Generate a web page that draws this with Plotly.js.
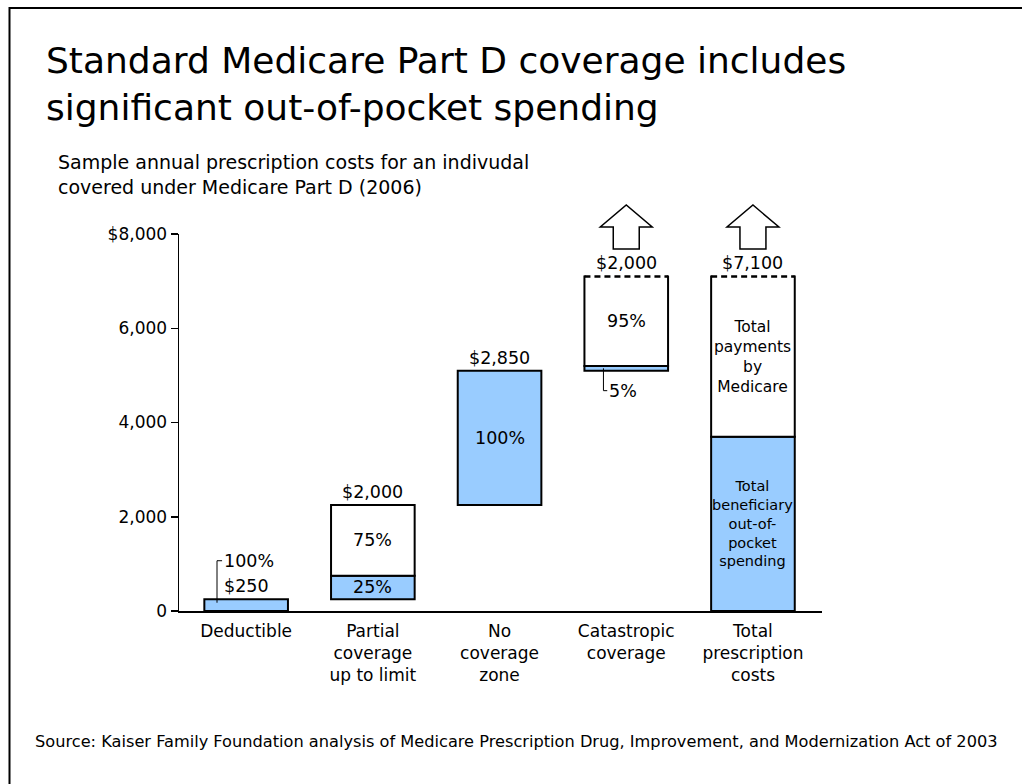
<!DOCTYPE html>
<html><head><meta charset="utf-8">
<script src="https://cdn.plot.ly/plotly-3.0.1.min.js"></script>
<style>html,body{margin:0;padding:0;background:#fff}#chart{width:1022px;height:784px}</style>
</head><body><div id="chart"></div>
<script>
// ---------------- data ----------------
const categories = ['Deductible', 'Partial<br>coverage<br>up to limit', 'No<br>coverage<br>zone', 'Catastropic<br>coverage', 'Total<br>prescription<br>costs'];
const beneficiaryCost = [250, 500, 2850, 100];   // paid by the beneficiary in each phase
const medicareCost = [0, 1500, 0, 1900];         // paid by Medicare in each phase
const phaseLabels = ['$250', '$2,000', '$2,850', '$2,000', '$7,100'];
const beneficiaryPct = ['100%', '25%', '100%', '5%'];
const medicarePct = ['', '75%', '', '95%'];
const totalBeneficiaryLabel = 'Total<br>beneficiary<br>out-of-<br>pocket<br>spending';
const totalMedicareLabel = 'Total<br>payments<br>by<br>Medicare';
const yTickVals = [0, 2000, 4000, 6000, 8000];
const yTickText = ['0', '2,000', '4,000', '6,000', '$8,000'];
const titleText = 'Standard Medicare Part D coverage includes<br>significant out-of-pocket spending';
const subtitleText = 'Sample annual prescription costs for an indivudal<br>covered under Medicare Part D (2006)';
const sourceText = 'Source: Kaiser Family Foundation analysis of Medicare Prescription Drug, Improvement, and Modernization Act of 2003';

// ---------------- derived ----------------
const FONT = 'DejaVu Sans, Verdana, sans-serif';
const BLUE = '#99ccff';
const W = 0.66;
const nPh = beneficiaryCost.length;
const xIdx = categories.map((c, i) => i);
const starts = [];
let cum = 0;
for (let i = 0; i < nPh; i++) { starts.push(cum); cum += beneficiaryCost[i] + medicareCost[i]; }
const totalBen = beneficiaryCost.reduce((a, b) => a + b, 0);
const totalMed = medicareCost.reduce((a, b) => a + b, 0);
const tops = starts.map((s, i) => s + beneficiaryCost[i] + medicareCost[i]).concat([totalBen + totalMed]);

const benX = xIdx.slice();
const benBase = starts.concat([0]);
const benY = beneficiaryCost.concat([totalBen]);
const medX = [], medBase = [], medY = [];
for (let i = 0; i < nPh; i++) {
  if (medicareCost[i] > 0) { medX.push(i); medBase.push(starts[i] + beneficiaryCost[i]); medY.push(medicareCost[i]); }
}
medX.push(nPh); medBase.push(totalBen); medY.push(totalMed);

// layout geometry
const M = {l: 179, r: 200, t: 234, b: 173};
const plotH = 784 - M.t - M.b;
const yRange = [0, 8000];
const uPerPx = (yRange[1] - yRange[0]) / plotH;

const traces = [
  {type: 'bar', x: benX, y: benY, base: benBase, width: W,
   marker: {color: BLUE, line: {color: '#000', width: 2}}, hoverinfo: 'skip', showlegend: false},
  {type: 'bar', x: medX, y: medY, base: medBase, width: W,
   marker: {color: '#fff', line: {color: '#000', width: 2}}, hoverinfo: 'skip', showlegend: false}
];

const ann = [];
const shapes = [];
const txt = (x, y, text, extra) => Object.assign({x, y, xref: 'x', yref: 'y', text, showarrow: false,
  font: {family: FONT, size: 17.5, color: '#000'}}, extra || {});

// phase totals above bars
tops.forEach((t, i) => ann.push(txt(i, t, phaseLabels[i], {yanchor: 'bottom', yshift: 1})));

// percentage labels
for (let i = 0; i < nPh; i++) {
  const b0 = starts[i], bh = beneficiaryCost[i];
  if (bh / uPerPx > 20) {
    ann.push(txt(i, b0 + bh / 2, beneficiaryPct[i]));
  } else {
    // callout with elbow leader
    const up = medicareCost[i] === 0;
    if (up) {
      const lx = i - 0.23, yb = b0 + bh - 3.5 * uPerPx, yt = b0 + bh + 38.5 * uPerPx;
      shapes.push({type: 'path', xref: 'x', yref: 'y', path: `M${lx},${yb} L${lx},${yt} L${lx + 0.04},${yt}`,
        line: {color: '#000', width: 1}});
      ann.push(txt(lx + 0.04, yt, beneficiaryPct[i], {xanchor: 'left', yanchor: 'middle'}));
    } else {
      const lx = i - 0.18, yb = b0 + bh / 2, yt = b0 - 20 * uPerPx;
      shapes.push({type: 'path', xref: 'x', yref: 'y', path: `M${lx},${yb} L${lx},${yt} L${lx + 0.03},${yt}`,
        line: {color: '#000', width: 1}});
      ann.push(txt(lx + 0.03, yt, beneficiaryPct[i], {xanchor: 'left', yanchor: 'middle'}));
    }
  }
  if (medicareCost[i] > 0) ann.push(txt(i, b0 + bh + medicareCost[i] / 2, medicarePct[i]));
}
ann.push(txt(nPh, totalBen / 2, totalBeneficiaryLabel, {font: {family: FONT, size: 14.5, color: '#000'}}));
ann.push(txt(nPh, totalBen + totalMed / 2, totalMedicareLabel, {font: {family: FONT, size: 15.5, color: '#000'}}));

// open-ended phases: last phase and total -> dashed top + up arrow
[nPh - 1, nPh].forEach(i => {
  const t = tops[i];
  shapes.push({type: 'line', xref: 'x', yref: 'y', x0: i - W / 2 + 0.01, x1: i + W / 2 - 0.01, y0: t, y1: t,
    line: {color: '#fff', width: 4}});
  shapes.push({type: 'line', xref: 'x', yref: 'y', x0: i - W / 2, x1: i + W / 2, y0: t, y1: t,
    line: {color: '#000', width: 2.5, dash: '6px,4px'}});
  const hw = 0.205, sw = 0.1025, yTip = 1.0769, yHead = 1.0186, yBot = 0.9602;
  shapes.push({type: 'path', xref: 'x', yref: 'paper',
    path: `M${i - sw},${yBot} L${i - sw},${yHead} L${i - hw},${yHead} L${i},${yTip} L${i + hw},${yHead} L${i + sw},${yHead} L${i + sw},${yBot} Z`,
    fillcolor: '#fff', line: {color: '#000', width: 1.5}});
});

// subtitle and source
ann.push({xref: 'paper', yref: 'paper', x: (56 - M.l) / 643, y: 1 + (234 - 174.5) / plotH, xanchor: 'left', yanchor: 'middle',
  align: 'left', showarrow: false, text: subtitleText, font: {family: FONT, size: 19, color: '#000'}});
ann.push({xref: 'paper', yref: 'paper', x: (33 - M.l) / 643, y: (611 - 741) / plotH, xanchor: 'left', yanchor: 'middle',
  align: 'left', showarrow: false, text: sourceText, font: {family: FONT, size: 16.2, color: '#000'}});

// outer frame
shapes.push({type: 'rect', xref: 'paper', yref: 'paper', x0: (9.5 - M.l) / 643, x1: (1040 - M.l) / 643,
  y0: (611 - 800) / plotH, y1: (611 - 8) / plotH, line: {color: '#000', width: 2}, fillcolor: 'rgba(0,0,0,0)'});

const layout = {
  width: 1022, height: 784,
  margin: M,
  paper_bgcolor: '#fff', plot_bgcolor: '#fff',
  barmode: 'overlay',
  showlegend: false,
  font: {family: FONT, size: 17, color: '#000'},
  title: {text: titleText, xref: 'container', yref: 'container', x: 46 / 1022, xanchor: 'left',
    y: 1 - 73 / 784, yanchor: 'top', font: {family: FONT, size: 36, color: '#000'}},
  xaxis: {type: 'linear', range: [-0.53, 4.545], tickvals: xIdx, ticktext: categories, showline: true,
    linecolor: '#000', linewidth: 1.5, ticks: '', showgrid: false, zeroline: false, ticklabelstandoff: 4,
    tickfont: {family: FONT, size: 17, color: '#000'}},
  yaxis: {range: yRange, tickvals: yTickVals, ticktext: yTickText, showline: true, linecolor: '#000', linewidth: 1.5,
    ticks: 'outside', ticklen: 7, tickwidth: 1.5, tickcolor: '#000', showgrid: false, zeroline: false,
    tickfont: {family: FONT, size: 17, color: '#000'}},
  annotations: ann,
  shapes: shapes
};

Plotly.newPlot('chart', traces, layout, {displayModeBar: false, staticPlot: true});
</script>
</body></html>
